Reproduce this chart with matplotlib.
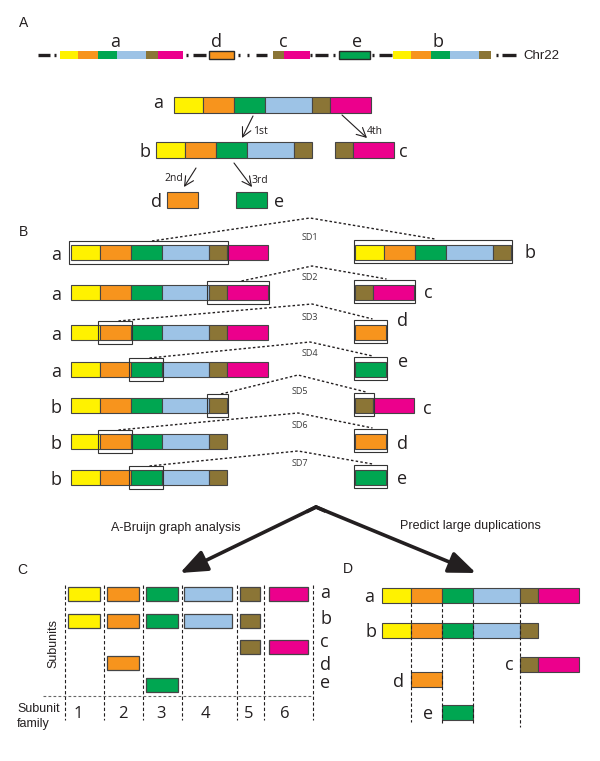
import matplotlib.pyplot as plt
from matplotlib.patches import Rectangle

# subunit families 1..6
unit_colors = ['#fff200', '#f7941d', '#00a651', '#9dc3e6', '#8b7536', '#ec008c']
unit_widths = [29, 31, 31, 47, 18, 41]

# elements a..e and the subunit families they carry
elem_names = ['a', 'b', 'c', 'd', 'e']
elem_units = [[0, 1, 2, 3, 4, 5], [0, 1, 2, 3, 4], [4, 5], [1], [2]]

# order of elements along Chr22
chr_order = ['a', 'd', 'c', 'e', 'b']

# segmental duplications: left element, right element, shared subunits
sd_names = ['SD1', 'SD2', 'SD3', 'SD4', 'SD5', 'SD6', 'SD7']
sd_left = ['a', 'a', 'a', 'a', 'b', 'b', 'b']
sd_right = ['b', 'c', 'd', 'e', 'c', 'd', 'e']
sd_shared = [[0, 1, 2, 3, 4], [4, 5], [1], [2], [4], [1], [2]]

# panel C subunit family columns
family_labels = ['1', '2', '3', '4', '5', '6']

FONT = 'Open Sans'
HFONT = 'Liberation Sans'
INK = '#231f20'
EDGE = '#454545'

fig = plt.figure(figsize=(6, 7.61), dpi=100)
ax = fig.add_axes([0, 0, 1, 1])
ax.set_xlim(0, 600)
ax.set_ylim(761, 0)
ax.axis('off')


def units_of(name):
    return elem_units[elem_names.index(name)]


def offset(u, widths, scale=1.0):
    return sum(widths[:u]) * scale


def draw_elem(name, x0, top, h, scale=1.0, edge=EDGE, lw=0.8):
    units = units_of(name)
    x = x0
    for u in units:
        w = unit_widths[u] * scale
        ax.add_patch(Rectangle((x, top), w, h, facecolor=unit_colors[u],
                               edgecolor=edge, lw=lw))
        x += w
    return x


def label(x, y, s, size=13, ha='center', va='baseline', font=FONT, color=INK, **kw):
    ax.text(x, y, s, fontsize=size, ha=ha, va=va, family=font, color=color, **kw)


# ---------------- panel A ----------------
label(24, 27, 'A', size=10, font=HFONT, ha='center')
chr_y = 55
chr_x = [60, 209, 273, 339, 393]
chr_label_x = [115, 217, 283, 357, 438]
chr_single_w = {'d': 25, 'e': 31}
for name, x0, lx in zip(chr_order, chr_x, chr_label_x):
    if name in chr_single_w:
        u = units_of(name)[0]
        ax.add_patch(Rectangle((x0, chr_y - 4), chr_single_w[name], 8,
                               facecolor=unit_colors[u], edgecolor='#2a2a2a', lw=1.0))
    else:
        draw_elem(name, x0, chr_y - 4, 8, scale=0.625, edge='none', lw=0)
    label(lx, 47, name, size=13)

chr_dashes = [(38, 50), (193, 206), (256, 267), (315, 328), (379, 392), (502, 516)]
chr_dots = [55, 187, 239, 248, 311, 334, 373, 497]
for x0, x1 in chr_dashes:
    ax.plot([x0, x1], [chr_y, chr_y], color=INK, lw=2.4, solid_capstyle='butt')
for xd in chr_dots:
    ax.plot([xd - 1.3, xd + 1.3], [chr_y, chr_y], color=INK, lw=2.4, solid_capstyle='butt')
label(523, 59, 'Chr22', size=9.5, ha='left', font=HFONT)

# duplication history tree
tree_pos = {'a': (174, 97), 'b': (156, 142), 'c': (335, 142), 'd': (167, 192), 'e': (236, 192)}
tree_lab = {'a': (158, 108), 'b': (145, 157), 'c': (403, 157), 'd': (157, 207), 'e': (279, 207)}
for name in elem_names:
    x0, top = tree_pos[name]
    draw_elem(name, x0, top, 15.5)
    label(*tree_lab[name], name)

tree_steps = ['1st', '4th', '2nd', '3rd']
tree_arrows = [((253, 116), (242, 138)), ((342, 115), (367, 138)),
               ((196, 168), (184, 187)), ((234, 163), (252, 187))]
tree_step_xy = [(260, 134), (375, 134), (174, 181), (260, 183)]
for s, (p0, p1), (tx, ty) in zip(tree_steps, tree_arrows, tree_step_xy):
    ax.annotate('', xy=p1, xytext=p0,
                arrowprops=dict(arrowstyle='->,head_length=0.55,head_width=0.28',
                                lw=0.8, color=INK, shrinkA=0, shrinkB=0, mutation_scale=12))
    label(tx, ty, s, size=7.5)

# ---------------- panel B ----------------
label(24, 236, 'B', size=10, font=HFONT)
row_top = [245, 285, 325, 362, 398, 434, 470]
bar_h = 15
left_x0 = 71
right_x0 = 355
peak_x = [310, 312, 312, 310, 298, 298, 298]
peak_y = [218, 266, 304, 342, 375, 413, 451]
sd_label_x = [310, 310, 310, 310, 300, 300, 300]
sd_label_y = [238, 277, 318, 354, 391, 425, 463]
right_label_x = [525, 424, 397, 398, 423, 397, 397]
right_label_y = [258, 298, 326, 367, 414, 449, 484]

for i in range(len(sd_names)):
    top = row_top[i]
    ln, rn = sd_left[i], sd_right[i]
    draw_elem(ln, left_x0, top, bar_h)
    draw_elem(rn, right_x0, top, bar_h)
    label(56, top + bar_h, ln)
    label(right_label_x[i], right_label_y[i], rn, ha='left')

    shared = sd_shared[i]
    # box on left element
    lu = units_of(ln)
    lx0 = left_x0 + offset(lu.index(shared[0]), [unit_widths[u] for u in lu])
    lw_ = sum(unit_widths[u] for u in shared)
    ax.add_patch(Rectangle((lx0 - 2, top - 4), lw_ + 3, bar_h + 8,
                           facecolor='none', edgecolor='#333333', lw=0.8))
    # box on right element
    ru = units_of(rn)
    rx0 = right_x0 + offset(ru.index(shared[0]), [unit_widths[u] for u in ru])
    ax.add_patch(Rectangle((rx0 - 1, top - 5), lw_ + 2, bar_h + 8,
                           facecolor='none', edgecolor='#333333', lw=0.8))
    # dotted link
    xs = [lx0 + lw_ / 2 + 3, peak_x[i], rx0 + lw_ / 2 + 2]
    ys = [top - 4, peak_y[i], top - 6]
    ax.plot(xs, ys, color=INK, lw=1.0, ls=(0, (1.8, 1.6)))
    label(sd_label_x[i], sd_label_y[i], sd_names[i], size=6.5, va='center', color='#3a3a3a')

# ---------------- big arrows ----------------
apex = (316, 507)
for tip in [(180, 573), (476, 573)]:
    ax.annotate('', xy=tip, xytext=apex,
                arrowprops=dict(arrowstyle='-|>,head_length=1.5,head_width=0.6',
                                lw=2.6, color=INK, shrinkA=0, shrinkB=0, mutation_scale=11))
ax.plot([apex[0] - 8, apex[0], apex[0] + 8], [apex[1] + 4, apex[1], apex[1] + 3.5],
        color=INK, lw=2.6, solid_joinstyle='miter')
label(176, 531, 'A-Bruijn graph analysis', size=9, font=HFONT)
label(470, 529, 'Predict large duplications', size=9, font=HFONT)

# ---------------- panel C ----------------
label(22, 574, 'C', size=10, font=HFONT)
col_x = [68, 107, 146, 184, 240, 269]
col_w = [32, 32, 32, 48, 20, 39]
c_row_top = [587, 614, 640, 656, 678]
c_row_lab_y = [598, 624, 647, 670, 688]
for r, name in enumerate(elem_names):
    for u in units_of(name):
        ax.add_patch(Rectangle((col_x[u], c_row_top[r]), col_w[u], 14,
                               facecolor=unit_colors[u], edgecolor=EDGE, lw=0.9))
    label(320, c_row_lab_y[r], name, ha='left')

dividers = [65, 104, 143, 182, 237, 264, 313]
for xd in dividers:
    ax.plot([xd, xd], [585, 720], color=INK, lw=0.8, ls=(0, (3, 2)))
ax.plot([43, 313], [696, 696], color='#666666', lw=0.8, ls=(0, (2.5, 2)))
fam_x = [78, 123, 161, 205, 249, 285]
for fx, fl in zip(fam_x, family_labels):
    label(fx, 718, fl, size=12)
label(53, 643, 'Subunits', size=9, font=HFONT, va='center', rotation=90)
label(17, 712, 'Subunit', size=9, font=HFONT, ha='left')
label(17, 727, 'family', size=9, font=HFONT, ha='left')

# ---------------- panel D ----------------
label(348, 573, 'D', size=10, font=HFONT)
d_x0 = 382
d_row_top = [588, 623, 657, 672, 705]
d_lab = [(369, 602), (371, 637), (509, 670), (398, 687), (428, 719)]
for r, name in enumerate(elem_names):
    first = units_of(name)[0]
    draw_elem(name, d_x0 + offset(first, unit_widths), d_row_top[r], 15)
    label(*d_lab[r], name)

d_bottoms = [722, 724, 724, 727]
for k, yb in zip([1, 2, 3, 4], d_bottoms):
    xd = d_x0 + offset(k, unit_widths)
    ax.plot([xd, xd], [603, yb], color=INK, lw=0.8, ls=(0, (3, 2)))

fig.savefig('out.png', dpi=100)
